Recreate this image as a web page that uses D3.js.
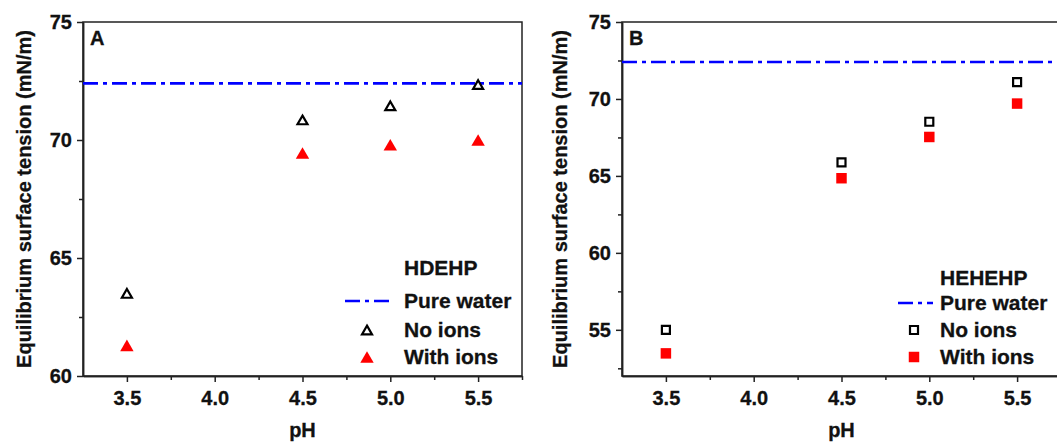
<!DOCTYPE html>
<meta charset="utf-8">
<style>
    body { margin: 0; background: #fff; }
    svg { font-family: "Liberation Sans", Arial, sans-serif; font-weight: bold; }
    .axis text { font-size: 20px; font-weight: bold; fill: #111; stroke: #111; stroke-width: 0.3; }
    .axis path, .axis line { stroke: #222; stroke-width: 1.5; }
    .frame { fill: none; stroke: #222; stroke-width: 1.5; }
    .water { stroke: #0000ff; stroke-width: 2.6; stroke-dasharray: 15,5,4,5; fill: none; }
    .lab { font-size: 20px; fill: #111; stroke: #111; stroke-width: 0.3; }
    .leg { font-size: 21px; }
</style>
<body>
<script src="https://cdn.jsdelivr.net/npm/d3@7"></script>
<script>
    // values
    var phValues = [3.5, 4.5, 5.0, 5.5];
    var hdehpNoIons = [63.5, 70.85, 71.45, 72.35];
    var hdehpWithIons = [61.3, 69.45, 69.8, 70.0];
    var hehehpNoIons = [55.0, 65.88, 68.52, 71.09];
    var hehehpWithIons = [53.47, 64.85, 67.53, 69.7];
    var pureWater = 72.4;
    var xTicks = [3.5, 4.0, 4.5, 5.0, 5.5];
    var xMinorTicks = [3.75, 4.25, 4.75, 5.25, 5.75];
    var yTicksA = [60, 65, 70, 75];
    var yMinorA = [62.5, 67.5, 72.5];
    var yTicksB = [55, 60, 65, 70, 75];
    var yMinorB = [52.5, 57.5, 62.5, 67.5, 72.5];
    var legendLabels = ["Pure water", "No ions", "With ions"];

    var width = 1057, height = 444;
    var svg = d3.select("body").append("svg")
        .attr("width", width)
        .attr("height", height);

    // triangle centred on its bounding box
    var triangle = {
        draw: function(ctx, size) {
            var w = Math.sqrt(size), h = w * 0.866;
            ctx.moveTo(0, -h / 2);
            ctx.lineTo(w / 2, h / 2);
            ctx.lineTo(-w / 2, h / 2);
            ctx.closePath();
        }
    };

    function drawPanel(p) {
        var x = d3.scaleLinear().domain([3.25, 5.75]).range([p.left, p.left + 439]);
        var y = d3.scaleLinear().domain(p.yDomain).range([376, 22]);
        var g = svg.append("g");

        g.append("rect").attr("class", "frame")
            .attr("x", x.range()[0]).attr("y", 22)
            .attr("width", 439).attr("height", 354);

        g.append("g").attr("class", "axis")
            .attr("transform", "translate(0,376)")
            .call(d3.axisBottom(x).tickValues(xTicks).tickFormat(d3.format(".1f"))
                .tickSize(6).tickSizeOuter(0).tickPadding(9));
        g.append("g").attr("class", "axis")
            .attr("transform", "translate(0,376)")
            .call(d3.axisBottom(x).tickValues(xMinorTicks).tickFormat("")
                .tickSize(4).tickSizeOuter(0));
        g.append("g").attr("class", "axis")
            .attr("transform", "translate(" + p.left + ",0)")
            .call(d3.axisLeft(y).tickValues(p.yTicks).tickSize(6).tickSizeOuter(0).tickPadding(5));
        g.append("g").attr("class", "axis")
            .attr("transform", "translate(" + p.left + ",0)")
            .call(d3.axisLeft(y).tickValues(p.yMinor).tickFormat("").tickSize(4).tickSizeOuter(0));

        g.append("line").attr("class", "water")
            .attr("x1", x(3.25)).attr("x2", x(5.75))
            .attr("y1", y(pureWater)).attr("y2", y(pureWater));

        var sym = d3.symbol().type(p.shape === "tri" ? triangle : d3.symbolSquare);
        g.selectAll(".open").data(p.noIons).enter().append("path")
            .attr("d", sym.size(p.shape === "tri" ? 100 : 64))
            .attr("transform", function(d, i) { return "translate(" + x(phValues[i]) + "," + y(d) + ")"; })
            .attr("fill", "none").attr("stroke", "#000").attr("stroke-width", 2.2);
        g.selectAll(".filled").data(p.withIons).enter().append("path")
            .attr("d", sym.size(p.shape === "tri" ? 180 : 110))
            .attr("transform", function(d, i) { return "translate(" + x(phValues[i]) + "," + y(d) + ")"; })
            .attr("fill", "#ff0000");

        // panel letter
        g.append("text").attr("class", "lab").attr("x", p.left + 7).attr("y", 45).text(p.letter);

        // axis titles
        g.append("text").attr("class", "lab")
            .attr("text-anchor", "middle")
            .attr("transform", "translate(" + p.titleX + ",199) rotate(-90)")
            .attr("dy", "0.35em")
            .text("Equilibrium surface tension (mN/m)");
        g.append("text").attr("class", "lab")
            .attr("text-anchor", "middle")
            .attr("x", p.left + 219.5).attr("y", 437)
            .text("pH");

        // legend
        var lg = svg.append("g");
        lg.append("text").attr("class", "lab leg").attr("x", p.legX).attr("y", p.legTitleY)
            .attr("dy", "0.35em").text(p.name);
        lg.append("line").attr("class", "water")
            .attr("x1", p.lineX[0]).attr("x2", p.lineX[1])
            .attr("y1", p.legY[0]).attr("y2", p.legY[0]);
        lg.append("path").attr("d", sym.size(p.shape === "tri" ? 100 : 64))
            .attr("transform", "translate(" + p.symX + "," + p.legY[1] + ")")
            .attr("fill", "none").attr("stroke", "#000").attr("stroke-width", 2.2);
        lg.append("path").attr("d", sym.size(p.shape === "tri" ? 180 : 110))
            .attr("transform", "translate(" + p.symX + "," + p.legY[2] + ")")
            .attr("fill", "#ff0000");
        lg.selectAll(".lt").data(legendLabels).enter().append("text")
            .attr("class", "lab leg")
            .attr("x", p.legX)
            .attr("y", function(d, i) { return p.legY[i]; })
            .attr("dy", "0.35em")
            .text(function(d) { return d; });
    }

    drawPanel({
        left: 83, yDomain: [60, 75], yTicks: yTicksA, yMinor: yMinorA,
        noIons: hdehpNoIons, withIons: hdehpWithIons, shape: "tri",
        letter: "A", name: "HDEHP", titleX: 24,
        legX: 404, legTitleY: 268, legY: [301, 330, 357], lineX: [345, 391], symX: 367
    });
    drawPanel({
        left: 622, yDomain: [52, 75], yTicks: yTicksB, yMinor: yMinorB,
        noIons: hehehpNoIons, withIons: hehehpWithIons, shape: "sq",
        letter: "B", name: "HEHEHP", titleX: 560,
        legX: 940, legTitleY: 278, legY: [303, 330, 357], lineX: [898, 933], symX: 914
    });
</script>
